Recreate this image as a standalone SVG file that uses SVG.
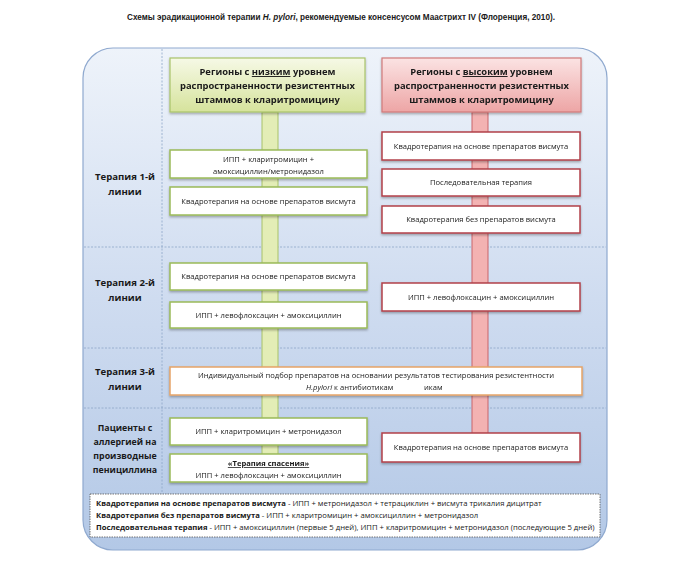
<svg xmlns="http://www.w3.org/2000/svg" width="700" height="574" viewBox="0 0 700 574">
<defs>
<linearGradient id="panel" x1="0" y1="0" x2="0" y2="1">
<stop offset="0" stop-color="#eef3fa"/>
<stop offset="0.5" stop-color="#cfdcf0"/>
<stop offset="1" stop-color="#b3c8e6"/>
</linearGradient>
<linearGradient id="ghead" x1="0" y1="0" x2="0" y2="1">
<stop offset="0" stop-color="#f6f9e6"/>
<stop offset="1" stop-color="#d6e39c"/>
</linearGradient>
<linearGradient id="rhead" x1="0" y1="0" x2="0" y2="1">
<stop offset="0" stop-color="#fbe3e3"/>
<stop offset="1" stop-color="#eda5a5"/>
</linearGradient>
<filter id="sh" x="-10%" y="-20%" width="120%" height="150%">
<feDropShadow dx="0" dy="1.5" stdDeviation="1.2" flood-color="#000" flood-opacity="0.3"/>
</filter>
</defs>
<style>
text{font-family:"Open Sans","Liberation Sans",sans-serif;fill:#1a1a1a;text-anchor:middle}
.t{font-size:7.6px}
.h{font-size:9.4px;font-weight:bold}
.l{font-size:9.6px;font-weight:bold}
.f{font-size:7.7px;text-anchor:start}
.b{font-weight:bold}
.gbox{fill:#fff;stroke:#9bbb59;stroke-width:1.5}
.rbox{fill:#fff;stroke:#b2404a;stroke-width:1.5}
.dash{stroke:#8ea6c8;stroke-width:0.8;stroke-dasharray:2,1.5;fill:none}
</style>
<text x="341" y="20" style="font-family:'Liberation Sans',sans-serif;font-size:8.2px;font-weight:bold">Схемы эрадикационной терапии <tspan font-style="italic">H. pylori</tspan>, рекомендуемые консенсусом Маастрихт IV (Флоренция, 2010).</text>
<g id="panel-bg">
<rect x="83" y="48" width="524" height="502" rx="30" fill="url(#panel)" stroke="#8fa9cf" stroke-width="1.2"/>
</g>
<g id="grid">
<line class="dash" x1="162" y1="49" x2="162" y2="493"/>
<line class="dash" x1="84" y1="247" x2="606" y2="247"/>
<line class="dash" x1="84" y1="348" x2="606" y2="348"/>
<line class="dash" x1="84" y1="408" x2="606" y2="408"/>
</g>
<g id="connectors">
<rect x="262" y="112" width="16" height="343" fill="#e3edb6" stroke="#a8c268" stroke-width="1"/>
<rect x="472" y="112" width="16" height="322" fill="#f3b2b2" stroke="#c9656a" stroke-width="1"/>
</g>
<g id="header-low" filter="url(#sh)">
<rect x="170" y="58" width="195" height="54" fill="url(#ghead)" stroke="#a9c36a" stroke-width="1.2"/>
<text class="h" x="267.5" y="75">Регионы с <tspan text-decoration="underline">низким</tspan> уровнем</text>
<text class="h" x="267.5" y="89">распространенности резистентных</text>
<text class="h" x="267.5" y="103">штаммов к кларитромицину</text>
</g>
<g id="header-high" filter="url(#sh)">
<rect x="382" y="58" width="199" height="54" fill="url(#rhead)" stroke="#d07a7a" stroke-width="1.2"/>
<text class="h" x="481.5" y="75">Регионы с <tspan text-decoration="underline">высоким</tspan> уровнем</text>
<text class="h" x="481.5" y="89">распространенности резистентных</text>
<text class="h" x="481.5" y="103">штаммов к кларитромицину</text>
</g>
<g id="label-1">
<text class="l" x="125" y="180">Терапия 1-й</text>
<text class="l" x="125" y="195">линии</text>
</g>
<g id="label-2">
<text class="l" x="125" y="286">Терапия 2-й</text>
<text class="l" x="125" y="301">линии</text>
</g>
<g id="label-3">
<text class="l" x="125" y="375">Терапия 3-й</text>
<text class="l" x="125" y="390">линии</text>
</g>
<g id="label-4">
<text class="l" x="125" y="431" style="font-size:8.8px">Пациенты с</text>
<text class="l" x="125" y="445" style="font-size:8.8px">аллергией на</text>
<text class="l" x="125" y="459" style="font-size:8.8px">производные</text>
<text class="l" x="125" y="473" style="font-size:8.8px">пенициллина</text>
</g>
<g id="g1" filter="url(#sh)">
<rect class="gbox" x="170" y="150" width="197" height="28"/>
<text class="t" x="268.5" y="162">ИПП + кларитромицин +</text>
<text class="t" x="268.5" y="174">амоксициллин/метронидазол</text>
</g>
<g id="g2" filter="url(#sh)">
<rect class="gbox" x="170" y="187" width="197" height="28"/>
<text class="t" x="268.5" y="204">Квадротерапия на основе препаратов висмута</text>
</g>
<g id="g3" filter="url(#sh)">
<rect class="gbox" x="170" y="263" width="197" height="27"/>
<text class="t" x="268.5" y="279">Квадротерапия на основе препаратов висмута</text>
</g>
<g id="g4" filter="url(#sh)">
<rect class="gbox" x="170" y="302" width="197" height="26"/>
<text class="t" x="268.5" y="318">ИПП + левофлоксацин + амоксициллин</text>
</g>
<g id="g5" filter="url(#sh)">
<rect class="gbox" x="170" y="418" width="197" height="27"/>
<text class="t" x="268.5" y="434">ИПП + кларитромицин + метронидазол</text>
</g>
<g id="g6" filter="url(#sh)">
<rect class="gbox" x="170" y="454" width="197" height="28"/>
<text class="t b" x="268.5" y="466" text-decoration="underline">«Терапия спасения»</text>
<text class="t" x="268.5" y="478">ИПП + левофлоксацин + амоксициллин</text>
</g>
<g id="r1" filter="url(#sh)">
<rect class="rbox" x="382" y="132" width="198" height="28"/>
<text class="t" x="481" y="149">Квадротерапия на основе препаратов висмута</text>
</g>
<g id="r2" filter="url(#sh)">
<rect class="rbox" x="382" y="169" width="198" height="27"/>
<text class="t" x="481" y="185">Последовательная терапия</text>
</g>
<g id="r3" filter="url(#sh)">
<rect class="rbox" x="382" y="206" width="198" height="27"/>
<text class="t" x="481" y="222">Квадротерапия без препаратов висмута</text>
</g>
<g id="r4" filter="url(#sh)">
<rect class="rbox" x="382" y="283" width="198" height="28"/>
<text class="t" x="481" y="300">ИПП + левофлоксацин + амоксициллин</text>
</g>
<g id="r5" filter="url(#sh)">
<rect class="rbox" x="382" y="433" width="198" height="29"/>
<text class="t" x="481" y="450">Квадротерапия на основе препаратов висмута</text>
</g>
<g id="third" filter="url(#sh)">
<rect x="170" y="367" width="412" height="28" fill="#fff" stroke="#e6a468" stroke-width="1.5"/>
<text class="t" x="376" y="378">Индивидуальный подбор препаратов на основании результатов тестирования резистентности</text>
<text class="t" x="306" y="390" style="text-anchor:start"><tspan font-style="italic">H.pylori</tspan> к антибиотикам<tspan x="424">икам</tspan></text>
</g>
<g id="footer">
<rect x="90" y="494" width="510" height="43" fill="#fff" stroke="#555" stroke-width="0.8" stroke-dasharray="1.5,1"/>
<text class="f" x="96" y="506"><tspan class="b">Квадротерапия на основе препаратов висмута</tspan> - ИПП + метронидазол + тетрациклин + висмута трикалия дицитрат</text>
<text class="f" x="96" y="518"><tspan class="b">Квадротерапия без препаратов висмута</tspan> - ИПП + кларитромицин + амоксициллин + метронидазол</text>
<text class="f" x="96" y="530"><tspan class="b">Последовательная терапия</tspan> - ИПП + амоксициллин (первые 5 дней), ИПП + кларитромицин + метронидазол (последующие 5 дней)</text>
</g>
</svg>
